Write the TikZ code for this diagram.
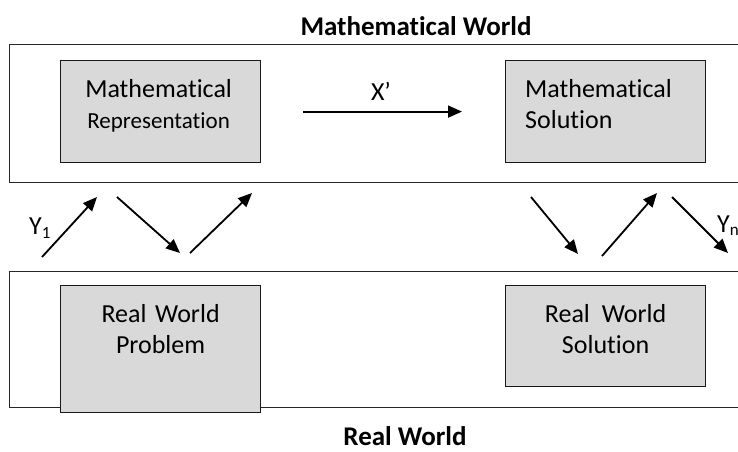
\documentclass[tikz,border=0pt]{standalone}
\usepackage{fontspec}
\setmainfont{Carlito}[Ligatures={TeX,NoCommon}]
\usetikzlibrary{arrows.meta,positioning}

\begin{document}
\begin{tikzpicture}[x=1pt, y=-1pt,
    world/.style={draw=black!85, line width=1.2pt, anchor=north west, inner sep=0pt, minimum width=740pt},
    stagebox/.style={draw=black!90, fill=black!15, line width=1.2pt, anchor=north west, inner sep=0pt, minimum width=200pt},
    boxtext/.style={font=\fontsize{26}{31}\selectfont, inner sep=0pt, text width=165pt},
    worldtitle/.style={font=\bfseries\fontsize{27}{32}\selectfont, inner sep=0pt, anchor=base},
    arrowlabel/.style={font=\fontsize{26}{31}\selectfont, inner sep=0pt},
    flow/.style={line width=1.8pt, -{Triangle[length=14pt,width=12pt]}}]
    \useasboundingbox (0,0) rectangle (738,451);
    % the two worlds
    \node[world, minimum height=138pt] (mathbox) at (9,44) {};
    \node[world, minimum height=136pt] (realbox) at (9,271) {};
    \node[worldtitle] (mathtitle) at (416,35) {Mathematical World};
    \node[worldtitle] (realtitle) at (405,445) {Real World};
    % stages
    \node[stagebox, minimum height=102pt] (mrep) at (60,60) {};
    \node[stagebox, minimum height=102pt] (msol) at (505,60) {};
    \node[stagebox, minimum height=127pt] (prob) at (60,285) {};
    \node[stagebox, minimum height=101pt] (rsol) at (505,285) {};
    \node[boxtext, align=center, anchor=base] (mreptext) at ([xshift=-2pt,yshift=-37pt]mrep.north)
        {Mathematical\\{\fontsize{23}{31}\selectfont Representation}};
    \node[boxtext, align=left, anchor=base west] (msoltext) at ([xshift=20pt,yshift=-37pt]msol.north west)
        {Mathematical\\Solution};
    \node[boxtext, align=center, anchor=base] (probtext) at ([yshift=-37pt]prob.north)
        {Real World\\Problem};
    \node[boxtext, align=center, anchor=base] (rsoltext) at ([yshift=-37pt]rsol.north)
        {Real\hspace{0.46em}World\\Solution};
    % X'
    \draw[flow, shorten <=42pt, shorten >=43pt] (mrep.east) -- (msol.west);
    \node[arrowlabel, anchor=base] (xlabel) at (381,100) {X’};
    % steps between the worlds
    \coordinate (up1s) at (42,257);  \coordinate (up1e) at (97,197);
    \coordinate (dn1s) at (117,197); \coordinate (dn1e) at (180,253);
    \coordinate (up2s) at (190,253); \coordinate (up2e) at (252,193);
    \coordinate (dn2s) at (531,197); \coordinate (dn2e) at (578,254);
    \coordinate (up3s) at (602,256); \coordinate (up3e) at (657,193);
    \coordinate (dn3s) at (672,197); \coordinate (dn3e) at (728,253);
    \draw[flow] (up1s) -- (up1e);
    \draw[flow] (dn1s) -- (dn1e);
    \draw[flow] (up2s) -- (up2e);
    \draw[flow] (dn2s) -- (dn2e);
    \draw[flow] (up3s) -- (up3e);
    \draw[flow] (dn3s) -- (dn3e);
    \node[arrowlabel, anchor=base west] (y1) at (29,234) {Y\raisebox{-4pt}{\fontsize{17}{20}\selectfont 1}};
    \node[arrowlabel, anchor=base west] (yn) at (717,232) {Y\raisebox{-3pt}{\fontsize{17}{20}\selectfont n}};
\end{tikzpicture}
\end{document}
